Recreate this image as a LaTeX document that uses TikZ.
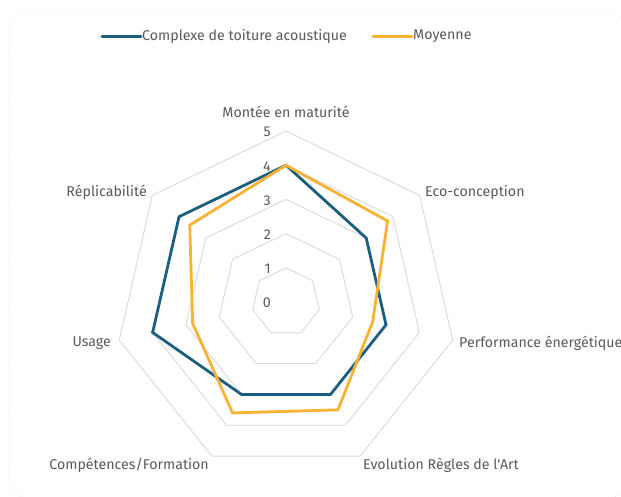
\documentclass[tikz,border=0pt]{standalone}
\usepackage{fontspec}
\setmainfont{Fira Sans}[Ligatures=TeXOff]
\definecolor{serA}{HTML}{1B5E80}
\definecolor{serB}{HTML}{F9B233}
\definecolor{gridc}{HTML}{D9D9D9}
\definecolor{txt}{HTML}{595959}
\tikzset{
  gridline/.style={draw=gridc, line width=0.9pt, line join=miter},
  seriesA/.style={draw=serA, line width=2.8pt, line join=miter},
  seriesB/.style={draw=serB, line width=2.8pt, line join=miter},
  lbl/.style={text=txt, font=\fontsize{14.2}{16}\selectfont, inner sep=0pt},
  tick/.style={text=txt, font=\fontsize{14.2}{16}\selectfont, inner sep=0pt, anchor=east},
  frame/.style={draw=gray!30, dotted, line width=0.6pt, rounded corners=20pt}
}
\begin{document}
\begin{tikzpicture}[x=1pt,y=1pt]
\useasboundingbox (0,-496) rectangle (621,0);
\draw[frame] (9,-498) rectangle (628,-13);
% legend
\coordinate (la1) at (102,-36);
\coordinate (la2) at (141,-36);
\draw[serA, line width=3pt, line cap=round] (la1) -- (la2);
\node[lbl, anchor=west] (legA) at (142,-36) {Complexe de toiture acoustique};
\coordinate (lb1) at (373,-36);
\coordinate (lb2) at (412,-36);
\draw[serB, line width=3pt, line cap=round] (lb1) -- (lb2);
\node[lbl, anchor=west] (legB) at (413,-36) {Moyenne};
\begin{scope}[shift={(286,-302)}]
\def\u{34.2}
% grid
\foreach \l in {1,...,5}{
  \draw[gridline] (90:\l*\u)
    \foreach \i in {1,...,6}{ -- ({90-\i*360/7}:\l*\u) } -- cycle;
}
% series A
\foreach \v [count=\i from 0] in {4,3,3,3,3,4,4}{
  \coordinate (a\i) at ({90-\i*360/7}:\v*\u);
}
\draw[seriesA] (a0) -- (a1) -- (a2) -- (a3) -- (a4) -- (a5) -- (a6) -- cycle;
% series B
\foreach \v [count=\i from 0] in {4,3.8,2.6,3.5,3.6,2.8,3.6}{
  \coordinate (b\i) at ({90-\i*360/7}:\v*\u);
}
\draw[seriesB] (b0) -- (b1) -- (b2) -- (b3) -- (b4) -- (b5) -- (b6) -- cycle;
% ticks
\foreach \l in {0,...,5}{
  \node[tick] (t\l) at (-15,\l*\u-1) {\l};
}
\end{scope}
% axis labels
\node[lbl] (ax0) at (286,-112) {Montée en maturité};
\node[lbl, anchor=west] (ax1) at (425,-192) {Eco-conception};
\node[lbl, anchor=west] (ax2) at (459,-343) {Performance énergétique};
\node[lbl, anchor=west] (ax3) at (363,-465) {Evolution Règles de l'Art};
\node[lbl, anchor=east] (ax4) at (209,-465) {Compétences/Formation};
\node[lbl, anchor=east] (ax5) at (111,-343) {Usage};
\node[lbl, anchor=east] (ax6) at (147,-192) {Réplicabilité};
\end{tikzpicture}
\end{document}
